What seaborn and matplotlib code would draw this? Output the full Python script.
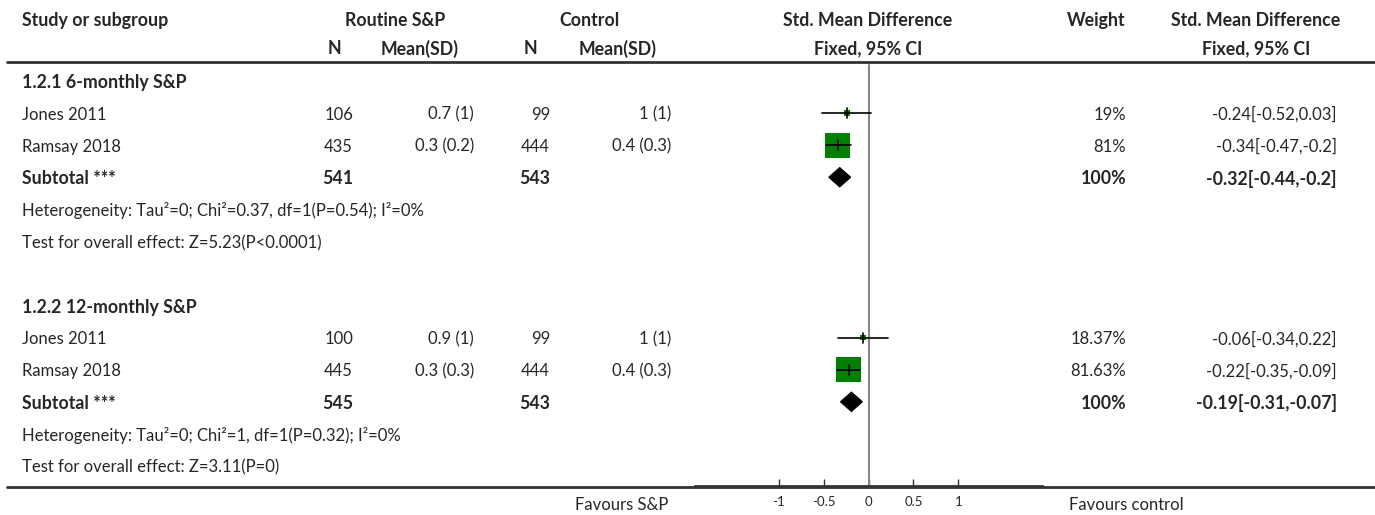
import matplotlib
matplotlib.use("Agg")
import matplotlib.pyplot as plt
import seaborn as sns
import numpy as np

# data
groups = ["1.2.1 6-monthly S&P", "1.2.2 12-monthly S&P"]
studies = ["Jones 2011", "Ramsay 2018"]
sp_n = [[106, 435], [100, 445]]
sp_mean = [["0.7 (1)", "0.3 (0.2)"], ["0.9 (1)", "0.3 (0.3)"]]
ctl_n = [[99, 444], [99, 444]]
ctl_mean = [["1 (1)", "0.4 (0.3)"], ["1 (1)", "0.4 (0.3)"]]
weights = [[19, 81], [18.37, 81.63]]
weight_labels = [["19%", "81%"], ["18.37%", "81.63%"]]
smd = [[-0.24, -0.34], [-0.06, -0.22]]
ci_lo = [[-0.52, -0.47], [-0.34, -0.35]]
ci_hi = [[0.03, -0.2], [0.22, -0.09]]
sub_n_sp = [541, 545]
sub_n_ctl = [543, 543]
sub_smd = [-0.32, -0.19]
sub_lo = [-0.44, -0.31]
sub_hi = [-0.2, -0.07]
heterogeneity = ["Heterogeneity: Tau\u00b2=0; Chi\u00b2=0.37, df=1(P=0.54); I\u00b2=0%",
                 "Heterogeneity: Tau\u00b2=0; Chi\u00b2=1, df=1(P=0.32); I\u00b2=0%"]
overall = ["Test for overall effect: Z=5.23(P<0.0001)",
           "Test for overall effect: Z=3.11(P=0)"]
ticks = [-1, -0.5, 0, 0.5, 1]

sns.set_theme(style="white")
plt.rcParams['font.family'] = ['Lato', 'DejaVu Sans']

W, H, DPI = 1375, 515, 100
fig = plt.figure(figsize=(W / DPI, H / DPI), dpi=DPI)

# table axes in pixel coordinates
tab = fig.add_axes([0, 0, 1, 1])
tab.set_xlim(0, W)
tab.set_ylim(H, 0)
tab.axis("off")

# forest axes
x0, x1 = 695, 1042
fa = fig.add_axes([x0 / W, 0, (x1 - x0) / W, 1])
fa.set_xlim(-1.93, 1.93)
fa.set_ylim(H, 0)
fa.patch.set_alpha(0)
for s in ["top", "left", "right"]:
    fa.spines[s].set_visible(False)

fs = 12
bold = dict(fontsize=12.8, fontweight="bold", va="center")
norm = dict(fontsize=fs, va="center")
dy = 1.5

# headers
tab.text(22, 19 + dy, "Study or subgroup", ha="left", **bold)
tab.text(395, 19 + dy, "Routine S&P", ha="center", **bold)
tab.text(590, 19 + dy, "Control", ha="center", **bold)
tab.text(868, 19 + dy, "Std. Mean Difference", ha="center", **bold)
tab.text(1096, 19 + dy, "Weight", ha="center", **bold)
tab.text(1256, 19 + dy, "Std. Mean Difference", ha="center", **bold)
tab.text(334, 47 + dy, "N", ha="center", **bold)
tab.text(420, 47 + dy, "Mean(SD)", ha="center", **bold)
tab.text(530, 47 + dy, "N", ha="center", **bold)
tab.text(618, 47 + dy, "Mean(SD)", ha="center", **bold)
tab.text(868, 47 + dy, "Fixed, 95% CI", ha="center", **bold)
tab.text(1256, 47 + dy, "Fixed, 95% CI", ha="center", **bold)
tab.axhline(62, xmin=7 / W, color="#333333", lw=2)
tab.axhline(487, xmin=7 / W, color="#333333", lw=2)

row_y0, step = 81, 32.08
study_y, study_x, study_s = [], [], []
for g, name in enumerate(groups):
    base = row_y0 + g * 7 * step
    tab.text(22, base + dy, name, ha="left", **bold)
    for i, st in enumerate(studies):
        y = base + (i + 1) * step
        tab.text(22, y + dy, st, ha="left", **norm)
        tab.text(353, y + dy, str(sp_n[g][i]), ha="right", **norm)
        tab.text(474, y + dy, sp_mean[g][i], ha="right", **norm)
        tab.text(550, y + dy, str(ctl_n[g][i]), ha="right", **norm)
        tab.text(671, y + dy, ctl_mean[g][i], ha="right", **norm)
        tab.text(1126, y + dy, weight_labels[g][i], ha="right", **norm)
        tab.text(1337, y + dy, f"{smd[g][i]:g}[{ci_lo[g][i]:g},{ci_hi[g][i]:g}]", ha="right", **norm)
        fa.plot([ci_lo[g][i], ci_hi[g][i]], [y, y], color="black", lw=1.2, zorder=3)
        fa.plot([smd[g][i], smd[g][i]], [y - 5, y + 5], color="black", lw=1.2, zorder=4)
        study_y.append(y)
        study_x.append(smd[g][i])
        side = 0.31 * weights[g][i] * 72 / DPI
        study_s.append(side ** 2)
    ys = base + 3 * step
    tab.text(22, ys + dy, "Subtotal ***", ha="left", **bold)
    tab.text(353, ys + dy, str(sub_n_sp[g]), ha="right", **bold)
    tab.text(550, ys + dy, str(sub_n_ctl[g]), ha="right", **bold)
    tab.text(1126, ys + dy, "100%", ha="right", **bold)
    tab.text(1337, ys + dy, f"{sub_smd[g]:g}[{sub_lo[g]:g},{sub_hi[g]:g}]", ha="right", **bold)
    fa.fill([sub_lo[g], sub_smd[g], sub_hi[g], sub_smd[g]],
            [ys, ys - 9.5, ys, ys + 9.5], color="black", zorder=3)
    tab.text(22, base + 4 * step + dy, heterogeneity[g], ha="left", **norm)
    tab.text(22, base + 5 * step + dy, overall[g], ha="left", **norm)

sns.scatterplot(x=study_x, y=study_y, s=np.array(study_s), marker="s",
                color="#008000", edgecolor="none", ax=fa, zorder=2)

fa.axvline(0, ymin=(H - 487) / H, ymax=(H - 65) / H, color="#888888", lw=1.5, zorder=1)

# x axis of the forest plot
fa.spines["bottom"].set_position(("data", 486))
fa.spines["bottom"].set_color("#333333")
fa.spines["bottom"].set_linewidth(2)
fa.set_xticks(ticks)
fa.set_xticklabels([f"{t:g}" for t in ticks])
fa.tick_params(axis="x", direction="in", length=5, width=1, color="#333333",
               labelsize=9.5, pad=7, bottom=True)
fa.set_yticks([])
fa.set_xlabel("")
fa.set_ylabel("")

tab.text(622, 505, "Favours S&P", ha="center", **norm)
tab.text(1126, 505, "Favours control", ha="center", **norm)

fig.savefig("out.png", dpi=DPI)
